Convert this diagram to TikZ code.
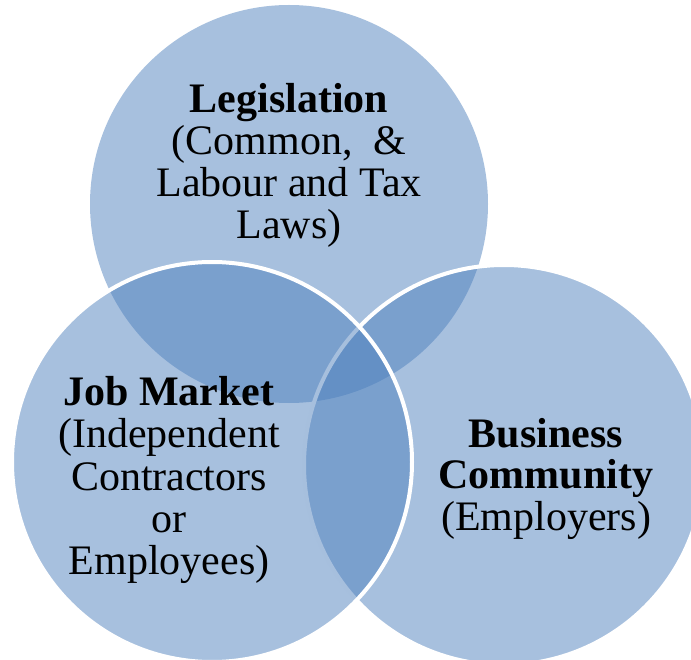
\documentclass[tikz,border=0pt]{standalone}
\usepackage{fontspec}
\setmainfont{Liberation Serif}
\definecolor{vennblue}{RGB}{79,129,189}
\begin{document}
\begin{tikzpicture}[x=1pt,y=-1pt,
  venn/.style={fill=vennblue,fill opacity=0.5},
  vennrim/.style={venn,draw=white,draw opacity=1,line width=4pt},
  lbl/.style={inner sep=0pt,anchor=base,text=black,font=\fontsize{42}{43}\selectfont}]
  \clip (0,0) rectangle (691,660);
  % three overlapping sets
  \fill[venn] (289,204) circle[radius=199] coordinate (ctop);
  \filldraw[vennrim] (504,465) circle[radius=200] coordinate (cright);
  \filldraw[vennrim] (212,462) circle[radius=200] coordinate (cleft);
  % legislation
  \node[lbl] (leg1) at (289,113) {\textbf{Legislation}};
  \node[lbl] (leg2) at (289,155) {(Common,\ \ \&};
  \node[lbl] (leg3) at (289,197) {Labour and Tax};
  \node[lbl] (leg4) at (289,239) {Laws)};
  % job market
  \node[lbl] (job1) at (169,405) {\textbf{Job Market}};
  \node[lbl] (job2) at (169,447) {(Independent};
  \node[lbl] (job3) at (169,490) {Contractors};
  \node[lbl] (job4) at (169,532) {or};
  \node[lbl] (job5) at (169,574) {Employees)};
  % business community
  \node[lbl] (bus1) at (546,447) {\textbf{Business}};
  \node[lbl] (bus2) at (546,488) {\textbf{Community}};
  \node[lbl] (bus3) at (546,530) {(Employers)};
\end{tikzpicture}
\end{document}
